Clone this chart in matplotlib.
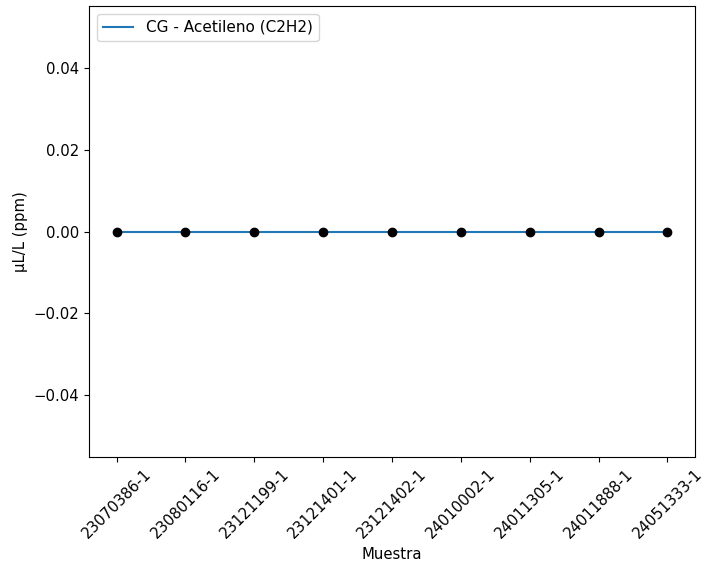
import numpy as np
import matplotlib.pyplot as plt

# sample IDs and measured acetylene concentration (ppm)
muestras = ['23070386-1', '23080116-1', '23121199-1', '23121401-1', '23121402-1',
            '24010002-1', '24011305-1', '24011888-1', '24051333-1']
c2h2_ppm = [0.0, 0.0, 0.0, 0.0, 0.0, 0.0, 0.0, 0.0, 0.0]

plt.rcParams['font.size'] = 10.7

fig = plt.figure(figsize=(7.18, 5.64), dpi=100)
ax = fig.add_axes([0.124, 0.19, 0.844, 0.799])

x = np.arange(len(muestras))
ax.plot(x, c2h2_ppm, color='tab:blue', label='CG - Acetileno (C2H2)')
ax.scatter(x, c2h2_ppm, color='black', s=36, zorder=3)

ax.set_xticks(x)
ax.set_xticklabels(muestras, rotation=45)
ax.set_xlabel('Muestra')
ax.set_ylabel('µL/L (ppm)')
ax.legend(loc='upper left', fontsize=11)

fig.savefig('out.png', dpi=100)
